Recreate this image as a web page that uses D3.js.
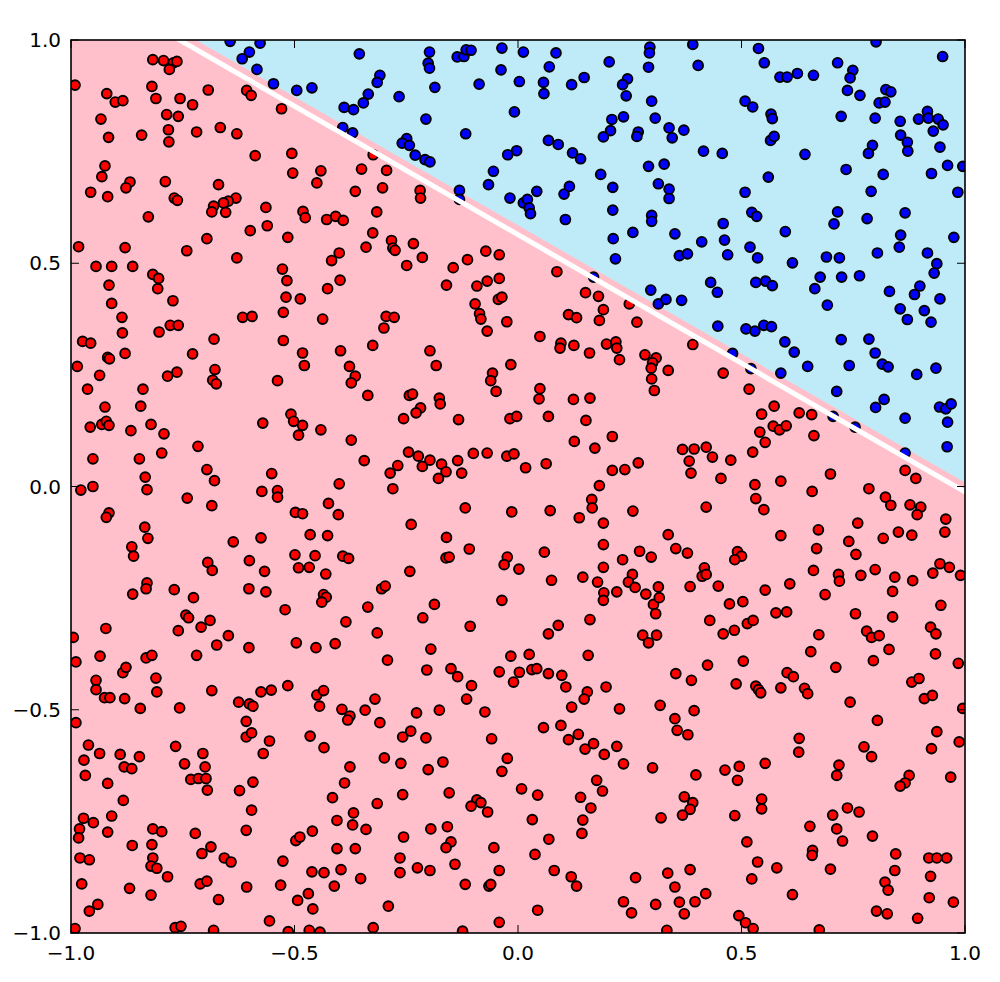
<!DOCTYPE html>
<html>
<head>
<meta charset="utf-8">
<script src="https://cdn.jsdelivr.net/npm/d3@7"></script>
<style>
html,body{margin:0;padding:0;background:#fff;}
svg{display:block;}
text{font-family:"DejaVu Sans",sans-serif;}
</style>
</head>
<body>
<svg id="chart" width="1000" height="982"></svg>
<script>
// ---- data ----
const xTicks = [-1.0, -0.5, 0.0, 0.5, 1.0];
const yTicks = [-1.0, -0.5, 0.0, 0.5, 1.0];
// decision region boundary (light blue above) and fitted separating line (white)
const regionLine = {intercept: 0.585, slope: -0.576};
const fitLine = {intercept: 0.564, slope: -0.576};

const bluePoints = [
[-0.644,0.997],[-0.577,0.993],[-0.601,0.973],[-0.617,0.958],[-0.584,0.934],[-0.547,0.902],[-0.495,0.887],[-0.461,0.893],[-0.355,0.969],[-0.335,0.879],[-0.346,0.859],[-0.389,0.849],[-0.368,0.844],[-0.392,0.804],[-0.370,0.792],
[-0.198,0.973],[-0.201,0.948],[-0.198,0.937],[-0.136,0.962],[-0.121,0.963],[-0.116,0.978],[-0.105,0.977],[-0.036,0.982],[0.012,0.973],[0.085,0.971],[0.204,0.951],[0.070,0.940],[0.295,0.984],[0.294,0.971],[0.292,0.939],
[-0.309,0.921],[-0.315,0.905],[-0.266,0.873],[-0.186,0.894],[-0.087,0.901],[-0.038,0.933],[0.003,0.907],[0.057,0.905],[0.058,0.880],[0.120,0.900],[0.148,0.916],[0.245,0.913],[0.234,0.900],[0.242,0.875],[0.299,0.863],
[-0.008,0.839],[-0.206,0.823],[-0.117,0.790],[0.210,0.822],[0.236,0.828],[0.207,0.797],[0.191,0.783],[0.307,0.825],[0.269,0.794],[0.266,0.784],
[-0.249,0.779],[-0.259,0.769],[-0.243,0.764],[-0.230,0.742],[-0.208,0.732],[-0.197,0.727],[0.068,0.775],[0.090,0.766],[0.122,0.747],[0.140,0.734],[-0.023,0.743],[-0.003,0.752],
[-0.055,0.706],[-0.066,0.676],[0.292,0.717],[0.327,0.722],[0.185,0.699],[0.212,0.670],[0.314,0.678],[-0.131,0.663],[-0.131,0.643],
[-0.018,0.646],[0.012,0.635],[0.021,0.643],[0.025,0.624],[0.028,0.611],[0.042,0.661],[0.103,0.655],[0.115,0.672],[0.106,0.598],[0.212,0.619],[0.299,0.607],[0.299,0.594],[0.257,0.569],[0.213,0.555],[0.218,0.510],[0.169,0.469],[0.297,0.440],[0.314,0.409],[0.331,0.419],
[0.391,0.990],[0.403,0.943],[0.538,0.981],[0.551,0.949],[0.801,0.996],[0.950,0.963],[0.715,0.949],[0.749,0.932],[0.743,0.915],[0.737,0.887],[0.765,0.876],[0.586,0.917],[0.602,0.917],[0.625,0.925],[0.661,0.921],
[0.823,0.889],[0.834,0.884],[0.808,0.859],[0.821,0.861],[0.508,0.863],[0.525,0.850],[0.566,0.834],[0.569,0.824],[0.723,0.829],[0.799,0.825],[0.855,0.818],[0.896,0.823],[0.916,0.840],[0.918,0.825],[0.940,0.823],[0.951,0.810],[0.929,0.796],
[0.338,0.803],[0.345,0.781],[0.371,0.798],[0.856,0.787],[0.871,0.771],[0.872,0.751],[0.944,0.760],[0.793,0.764],[0.784,0.746],[0.565,0.775],[0.573,0.784],[0.415,0.751],[0.457,0.746],[0.642,0.744],
[0.961,0.719],[0.995,0.717],[0.734,0.710],[0.817,0.699],[0.925,0.701],[0.560,0.693],[0.508,0.659],[0.790,0.661],[0.984,0.659],[0.338,0.666],[0.338,0.645],
[0.523,0.614],[0.534,0.605],[0.715,0.615],[0.707,0.588],[0.781,0.600],[0.866,0.613],[0.459,0.589],[0.598,0.571],[0.351,0.566],[0.411,0.548],[0.462,0.552],[0.519,0.536],[0.469,0.519],[0.536,0.512],[0.361,0.517],[0.379,0.521],
[0.614,0.501],[0.690,0.514],[0.719,0.512],[0.804,0.523],[0.856,0.563],[0.853,0.536],[0.916,0.523],[0.937,0.499],[0.931,0.478],[0.975,0.558],[0.676,0.469],[0.724,0.469],[0.764,0.472],[0.664,0.443],[0.692,0.406],
[0.831,0.437],[0.887,0.430],[0.899,0.449],[0.944,0.420],[0.855,0.398],[0.871,0.374],[0.909,0.394],[0.924,0.368],[0.431,0.457],[0.446,0.435],[0.532,0.457],[0.554,0.460],[0.569,0.450],[0.366,0.417],
[0.447,0.359],[0.510,0.353],[0.530,0.348],[0.550,0.361],[0.567,0.358],
[0.597,0.324],[0.618,0.301],[0.723,0.329],[0.785,0.330],[0.648,0.269],[0.741,0.271],[0.799,0.299],[0.815,0.274],[0.828,0.268],[0.892,0.251],[0.935,0.265],[0.480,0.298],[0.521,0.264],[0.588,0.254],
[0.713,0.213],[0.800,0.177],[0.819,0.195],[0.866,0.153],[0.943,0.178],[0.957,0.174],[0.969,0.185],[0.961,0.144],[0.960,0.089],[0.705,0.157],[0.754,0.133],[0.866,0.075]
];

const redPoints = [
// upper left
[-0.817,0.956],[-0.793,0.954],[-0.771,0.949],[-0.763,0.952],[-0.780,0.934],[-0.991,0.899],[-0.819,0.896],[-0.920,0.880],[-0.810,0.869],[-0.901,0.861],[-0.884,0.864],[-0.756,0.869],[-0.728,0.855],[-0.693,0.888],[-0.607,0.887],[-0.597,0.876],[-0.529,0.846],
[-0.786,0.833],[-0.760,0.829],[-0.933,0.823],[-0.782,0.799],[-0.916,0.782],[-0.842,0.787],[-0.781,0.772],[-0.719,0.794],[-0.666,0.804],[-0.629,0.790],[-0.588,0.741],[-0.506,0.746],
[-0.924,0.718],[-0.931,0.694],[-0.868,0.682],[-0.877,0.669],[-0.956,0.659],[-0.918,0.649],[-0.789,0.683],[-0.670,0.676],[-0.504,0.702],[-0.441,0.707],[-0.450,0.680],[-0.350,0.711],[-0.364,0.661],
[-0.769,0.646],[-0.762,0.641],[-0.631,0.646],[-0.648,0.639],[-0.659,0.635],[-0.681,0.628],[-0.685,0.615],[-0.654,0.614],[-0.564,0.625],[-0.827,0.604],[-0.481,0.616],[-0.476,0.602],[-0.428,0.598],[-0.408,0.605],[-0.391,0.596],
[-0.599,0.573],[-0.561,0.584],[-0.515,0.558],[-0.696,0.555],[-0.983,0.537],[-0.879,0.535],[-0.741,0.528],[-0.340,0.536],[-0.400,0.523],[-0.417,0.506],[-0.629,0.512],
[-0.944,0.493],[-0.909,0.493],[-0.862,0.493],[-0.817,0.475],[-0.804,0.466],[-0.527,0.487],[-0.517,0.461],[-0.398,0.462],[-0.426,0.443],[-0.915,0.451],[-0.806,0.443],
[-0.519,0.424],[-0.487,0.420],[-0.772,0.416],[-0.909,0.410],[-0.525,0.390],[-0.616,0.379],[-0.595,0.381],[-0.437,0.375],[-0.886,0.379],[-0.778,0.361],[-0.760,0.361],[-0.885,0.344],[-0.803,0.346],
// upper middle
[-0.324,0.743],[-0.294,0.708],[-0.303,0.669],[-0.316,0.615],[-0.325,0.568],[-0.219,0.663],[-0.218,0.646],[-0.283,0.551],[-0.280,0.534],[-0.275,0.529],[-0.234,0.544],[-0.214,0.513],[-0.249,0.495],
[-0.145,0.490],[-0.113,0.508],[-0.072,0.527],[-0.042,0.519],[-0.160,0.451],[-0.092,0.449],[-0.069,0.460],[-0.042,0.466],[-0.044,0.419],[-0.036,0.424],[-0.096,0.409],[-0.086,0.387],[-0.083,0.375],[-0.025,0.369],
[-0.295,0.381],[-0.277,0.379],[-0.300,0.355],[-0.069,0.348],[0.087,0.481],[0.151,0.434],[0.180,0.426],[0.191,0.396],[0.113,0.385],[0.131,0.378],[0.182,0.372],[0.249,0.409],[0.266,0.368],
// middle left
[-0.974,0.325],[-0.956,0.321],[-0.680,0.330],[-0.525,0.327],[-0.879,0.298],[-0.918,0.289],[-0.914,0.286],[-0.728,0.297],[-0.986,0.269],[-0.936,0.249],[-0.784,0.247],[-0.763,0.256],[-0.678,0.262],[-0.683,0.238],[-0.675,0.230],
[-0.963,0.218],[-0.839,0.218],[-0.924,0.178],[-0.844,0.180],[-0.482,0.299],[-0.478,0.271],[-0.397,0.304],[-0.377,0.269],[-0.364,0.247],[-0.373,0.232],[-0.538,0.237],[-0.336,0.204],
[-0.957,0.133],[-0.931,0.139],[-0.921,0.146],[-0.915,0.137],[-0.866,0.125],[-0.821,0.139],[-0.792,0.118],[-0.571,0.142],[-0.508,0.162],[-0.502,0.146],[-0.482,0.137],[-0.491,0.115],[-0.441,0.127],[-0.373,0.104],
[-0.716,0.090],[-0.797,0.075],[-0.951,0.062],[-0.847,0.062],[-0.344,0.058],[-0.696,0.038],[-0.679,0.013],[-0.834,0.021],[-0.830,-0.007],[-0.978,-0.008],[-0.951,0.000],[-0.740,-0.026],[-0.685,-0.043],
[-0.573,-0.011],[-0.538,-0.009],[-0.538,-0.024],[-0.551,0.029],[-0.400,0.006],[-0.424,-0.038],[-0.402,-0.063],[-0.498,-0.058],[-0.482,-0.061],[-0.915,-0.059],[-0.921,-0.069],
[-0.835,-0.091],[-0.828,-0.116],[-0.864,-0.135],[-0.860,-0.156],[-0.637,-0.124],[-0.575,-0.115],[-0.465,-0.108],[-0.426,-0.110],[-0.499,-0.153],[-0.454,-0.155],[-0.392,-0.156],[-0.379,-0.161],
[-0.491,-0.182],[-0.467,-0.181],[-0.430,-0.196],[-0.601,-0.166],[-0.567,-0.190],[-0.694,-0.170],[-0.684,-0.188],[-0.830,-0.216],[-0.832,-0.229],[-0.862,-0.241],[-0.769,-0.231],[-0.726,-0.249],
[-0.602,-0.229],[-0.564,-0.236],[-0.435,-0.242],[-0.429,-0.248],[-0.439,-0.259],[-0.521,-0.276],[-0.336,-0.270],[-0.385,-0.303],[-0.743,-0.288],[-0.737,-0.294],[-0.689,-0.300],[-0.709,-0.315],[-0.760,-0.323],[-0.648,-0.334],[-0.922,-0.318],[-0.995,-0.338],
// center
[0.049,0.336],[-0.325,0.316],[-0.197,0.304],[-0.183,0.271],[0.096,0.321],[0.094,0.310],[0.125,0.316],[0.160,0.299],[0.198,0.319],[0.219,0.324],[0.221,0.310],[0.227,0.284],[0.284,0.295],[0.309,0.288],[0.301,0.277],[0.298,0.265],[0.299,0.241],[0.305,0.215],[0.336,0.260],
[-0.016,0.273],[-0.057,0.254],[-0.061,0.237],[-0.049,0.213],[0.049,0.219],[0.047,0.196],[0.124,0.195],[0.161,0.198],[-0.243,0.204],[-0.236,0.207],[-0.218,0.176],[-0.228,0.165],[-0.176,0.198],[-0.174,0.185],
[-0.256,0.152],[-0.133,0.150],[-0.018,0.152],[-0.003,0.157],[0.068,0.157],[0.152,0.148],[0.126,0.101],[0.172,0.086],[0.211,0.112],
[-0.245,0.077],[-0.223,0.068],[-0.214,0.045],[-0.197,0.059],[-0.171,0.050],[-0.161,0.033],[-0.178,0.018],[-0.135,0.058],[-0.126,0.030],[-0.269,0.047],[-0.286,0.030],[-0.280,-0.005],
[-0.100,0.074],[-0.069,0.075],[-0.025,0.068],[-0.009,0.073],[0.017,0.042],[0.063,0.051],[0.182,0.002],[0.165,-0.029],[0.166,-0.048],[0.211,0.036],[0.239,0.038],[0.269,0.053],
[-0.118,-0.048],[-0.014,-0.057],[0.072,-0.054],[0.137,-0.070],[0.191,-0.082],[0.257,-0.055],[-0.239,-0.085],[-0.160,-0.114],[-0.109,-0.140],[-0.161,-0.160],[-0.154,-0.158],[-0.024,-0.158],[-0.031,-0.175],[0.002,-0.185],
[0.059,-0.147],[0.191,-0.130],[0.234,-0.164],[0.272,-0.145],[0.298,-0.158],[0.336,-0.108],[-0.242,-0.190],[0.075,-0.210],[0.145,-0.203],[0.178,-0.214],[0.191,-0.181],[0.256,-0.197],[0.247,-0.214],[0.262,-0.226],
[0.221,-0.236],[0.192,-0.238],[0.191,-0.255],[0.286,-0.241],[0.303,-0.264],[0.314,-0.225],[0.316,-0.249],[0.308,-0.285],[-0.305,-0.229],[-0.297,-0.223],[-0.187,-0.264],[-0.036,-0.255],[-0.213,-0.294],
[-0.107,-0.313],[0.090,-0.311],[0.161,-0.298],[-0.315,-0.328],[0.068,-0.330],[0.279,-0.333],[0.310,-0.333],
// middle right
[0.391,0.318],[0.459,0.254],[0.517,0.218],[0.573,0.180],[0.545,0.162],[0.629,0.165],[0.657,0.161],[0.541,0.122],[0.571,0.135],[0.585,0.127],[0.600,0.136],[0.553,0.099],[0.662,0.114],
[0.368,0.083],[0.394,0.084],[0.421,0.088],[0.435,0.066],[0.383,0.057],[0.387,0.030],[0.476,0.059],[0.525,0.077],[0.454,0.018],[0.530,0.004],[0.588,0.012],[0.658,-0.011],[0.699,0.028],
[0.785,-0.005],[0.822,-0.024],[0.834,-0.042],[0.866,0.036],[0.890,0.018],[0.877,-0.041],[0.901,-0.046],[0.893,-0.063],[0.957,-0.073],[0.955,-0.102],[0.760,-0.082],[0.740,-0.123],[0.756,-0.152],
[0.817,-0.116],[0.851,-0.102],[0.881,-0.109],[0.672,-0.097],[0.668,-0.139],[0.588,-0.110],[0.532,-0.027],[0.550,-0.052],[0.421,-0.046],[0.353,-0.139],[0.379,-0.149],[0.491,-0.146],[0.500,-0.156],[0.485,-0.164],
[0.417,-0.182],[0.412,-0.201],[0.421,-0.197],[0.385,-0.224],[0.448,-0.223],[0.553,-0.232],[0.608,-0.218],[0.661,-0.188],[0.717,-0.197],[0.719,-0.212],[0.767,-0.199],[0.799,-0.186],[0.843,-0.203],[0.883,-0.211],
[0.838,-0.235],[0.928,-0.194],[0.944,-0.173],[0.965,-0.181],[0.990,-0.199],[0.687,-0.242],[0.473,-0.263],[0.503,-0.258],[0.577,-0.283],[0.601,-0.281],[0.755,-0.285],[0.838,-0.292],[0.946,-0.266],
[0.429,-0.300],[0.513,-0.307],[0.526,-0.300],[0.459,-0.330],[0.484,-0.322],[0.673,-0.332],[0.780,-0.324],[0.791,-0.338],[0.808,-0.334],[0.923,-0.315],[0.935,-0.330],
// lower left
[-0.674,-0.355],[-0.602,-0.361],[-0.496,-0.350],[-0.452,-0.361],[-0.409,-0.352],[-0.989,-0.393],[-0.935,-0.380],[-0.832,-0.384],[-0.819,-0.378],[-0.719,-0.378],[-0.884,-0.417],[-0.877,-0.405],
[-0.944,-0.434],[-0.944,-0.455],[-0.925,-0.473],[-0.913,-0.473],[-0.880,-0.475],[-0.810,-0.429],[-0.808,-0.460],[-0.845,-0.497],[-0.757,-0.496],[-0.685,-0.457],[-0.625,-0.483],[-0.601,-0.487],[-0.593,-0.492],
[-0.575,-0.460],[-0.552,-0.456],[-0.515,-0.446],[-0.450,-0.467],[-0.435,-0.457],[-0.444,-0.492],[-0.394,-0.499],[-0.376,-0.514],[-0.381,-0.523],[-0.342,-0.501],[-0.989,-0.529],
[-0.608,-0.526],[-0.608,-0.561],[-0.596,-0.552],[-0.556,-0.570],[-0.570,-0.598],[-0.465,-0.559],[-0.434,-0.585],[-0.961,-0.579],[-0.936,-0.598],[-0.971,-0.613],[-0.890,-0.600],[-0.847,-0.605],[-0.881,-0.628],[-0.864,-0.632],
[-0.968,-0.647],[-0.918,-0.665],[-0.766,-0.582],[-0.746,-0.621],[-0.705,-0.598],[-0.700,-0.628],[-0.732,-0.656],[-0.715,-0.654],[-0.698,-0.654],[-0.695,-0.680],[-0.623,-0.681],[-0.593,-0.662],[-0.883,-0.703],[-0.596,-0.725],
[-0.376,-0.628],[-0.388,-0.664],[-0.415,-0.697],[-0.368,-0.731],[-0.370,-0.758],[-0.405,-0.748],[-0.340,-0.768],[-0.972,-0.743],[-0.950,-0.753],[-0.981,-0.767],[-0.983,-0.787],[-0.909,-0.738],[-0.918,-0.774],
[-0.817,-0.767],[-0.797,-0.773],[-0.722,-0.777],[-0.608,-0.770],[-0.497,-0.793],[-0.488,-0.785],[-0.460,-0.772],[-0.863,-0.804],[-0.819,-0.802],[-0.687,-0.807],[-0.707,-0.822],[-0.657,-0.832],[-0.642,-0.841],
[-0.817,-0.832],[-0.821,-0.850],[-0.808,-0.855],[-0.784,-0.874],[-0.980,-0.832],[-0.959,-0.836],[-0.526,-0.839],[-0.405,-0.811],[-0.364,-0.811],[-0.461,-0.863],[-0.434,-0.865],[-0.396,-0.858],[-0.352,-0.878],
[-0.976,-0.890],[-0.869,-0.900],[-0.821,-0.915],[-0.711,-0.890],[-0.696,-0.884],[-0.607,-0.897],[-0.531,-0.893],[-0.411,-0.895],[-0.469,-0.912],[-0.493,-0.927],[-0.459,-0.946],[-0.670,-0.925],[-0.959,-0.951],[-0.940,-0.936],
[-0.556,-0.973],[-0.991,-0.990],[-0.767,-0.988],[-0.754,-0.985],[-0.681,-0.994],[-0.514,-0.997],[-0.467,-0.994],[-0.443,-0.998],
// lower middle
[0.292,-0.350],[-0.195,-0.364],[-0.292,-0.389],[-0.204,-0.411],[-0.150,-0.408],[-0.135,-0.426],[-0.104,-0.446],[-0.115,-0.476],[-0.320,-0.476],[-0.227,-0.507],[-0.176,-0.501],[-0.309,-0.529],[-0.074,-0.505],
[-0.240,-0.548],[-0.258,-0.561],[-0.206,-0.563],[-0.059,-0.565],[-0.016,-0.380],[0.025,-0.376],[-0.042,-0.415],[0.003,-0.416],[-0.010,-0.438],[0.031,-0.410],[0.042,-0.408],[0.068,-0.419],[0.098,-0.423],[0.107,-0.449],
[0.157,-0.378],[0.155,-0.460],[0.148,-0.476],[0.197,-0.449],[0.120,-0.494],[0.227,-0.498],[0.318,-0.490],[0.057,-0.540],[0.096,-0.535],[0.113,-0.567],[0.135,-0.555],[0.150,-0.588],[0.169,-0.576],[0.193,-0.600],[0.221,-0.582],
[0.236,-0.621],[0.301,-0.630],[-0.299,-0.608],[-0.262,-0.620],[-0.201,-0.634],[-0.168,-0.617],[-0.024,-0.609],[-0.036,-0.638],[0.008,-0.677],[0.044,-0.691],[-0.092,-0.702],[-0.105,-0.716],[-0.083,-0.708],[-0.068,-0.729],
[-0.154,-0.686],[-0.258,-0.690],[-0.315,-0.710],[0.176,-0.658],[0.189,-0.682],[0.140,-0.696],[0.163,-0.720],[0.145,-0.747],[0.143,-0.777],[0.032,-0.746],[0.320,-0.742],[0.069,-0.790],[0.038,-0.824],[-0.054,-0.809],
[-0.195,-0.767],[-0.158,-0.762],[-0.150,-0.796],[-0.161,-0.809],[-0.256,-0.785],[-0.264,-0.832],[-0.264,-0.865],[-0.225,-0.854],[-0.197,-0.860],[-0.141,-0.846],[-0.042,-0.860],[0.081,-0.860],[0.119,-0.874],[0.131,-0.895],
[-0.118,-0.891],[-0.065,-0.895],[-0.061,-0.891],[0.263,-0.876],[0.335,-0.866],[0.236,-0.930],[0.254,-0.955],[0.308,-0.936],[-0.290,-0.940],[0.044,-0.949],[-0.042,-0.976],[-0.124,-0.996],[-0.324,-0.988],[0.333,-0.994],
// lower right
[0.655,-0.370],[0.830,-0.365],[0.934,-0.375],[0.795,-0.390],[0.985,-0.396],[0.353,-0.419],[0.424,-0.400],[0.504,-0.391],[0.388,-0.434],[0.488,-0.442],[0.711,-0.405],[0.588,-0.451],[0.602,-0.417],[0.616,-0.426],
[0.532,-0.447],[0.538,-0.455],[0.543,-0.462],[0.641,-0.452],[0.648,-0.464],[0.743,-0.483],[0.881,-0.438],[0.897,-0.430],[0.909,-0.475],[0.927,-0.468],[0.995,-0.497],[0.394,-0.502],[0.351,-0.520],[0.356,-0.546],[0.380,-0.556],
[0.804,-0.524],[0.937,-0.549],[0.925,-0.587],[0.987,-0.572],[0.629,-0.564],[0.628,-0.595],[0.774,-0.583],[0.791,-0.605],[0.463,-0.635],[0.495,-0.627],[0.491,-0.658],[0.553,-0.620],[0.398,-0.646],[0.718,-0.624],[0.713,-0.647],
[0.875,-0.647],[0.866,-0.664],[0.855,-0.671],[0.968,-0.651],[0.372,-0.695],[0.391,-0.708],[0.385,-0.723],[0.368,-0.736],[0.545,-0.700],[0.545,-0.722],[0.485,-0.737],[0.704,-0.736],[0.737,-0.720],[0.763,-0.729],
[0.653,-0.761],[0.713,-0.767],[0.726,-0.794],[0.793,-0.783],[0.512,-0.796],[0.659,-0.815],[0.658,-0.826],[0.845,-0.823],[0.919,-0.832],[0.937,-0.832],[0.959,-0.832],[0.923,-0.873],[0.843,-0.860],[0.821,-0.886],[0.828,-0.904],
[0.699,-0.857],[0.579,-0.854],[0.536,-0.841],[0.523,-0.879],[0.385,-0.858],[0.351,-0.897],[0.420,-0.912],[0.361,-0.931],[0.396,-0.930],[0.372,-0.957],[0.614,-0.914],[0.920,-0.921],[0.974,-0.931],[0.802,-0.951],[0.826,-0.957],
[0.894,-0.967],[0.494,-0.961],[0.509,-0.977],[0.526,-0.990],[0.674,-0.993]
];

// ---- layout ----
const svg = d3.select("#chart");
const plot = {left: 71, right: 965, top: 40, bottom: 933};
const x = d3.scaleLinear().domain([-1, 1]).range([plot.left, plot.right]);
const y = d3.scaleLinear().domain([-1, 1]).range([plot.bottom, plot.top]);

svg.append("defs").append("clipPath").attr("id", "clip")
  .append("rect").attr("x", plot.left).attr("y", plot.top)
  .attr("width", plot.right - plot.left).attr("height", plot.bottom - plot.top);

const g = svg.append("g").attr("clip-path", "url(#clip)");

// pink background region
g.append("rect").attr("x", x(-1)).attr("y", y(1))
  .attr("width", x(1) - x(-1)).attr("height", y(-1) - y(1)).attr("fill", "#ffc0cb");

// light blue region above decision boundary
const lineAt = (p, xv) => p.intercept + p.slope * xv;
const xTop = (1 - regionLine.intercept) / regionLine.slope;
const regionPoly = [[xTop, 1], [1, 1], [1, lineAt(regionLine, 1)]];
g.append("path")
  .attr("d", d3.line().x(d => x(d[0])).y(d => y(d[1]))(regionPoly) + "Z")
  .attr("fill", "#bfebf8");

// points
const R = 4.9, SW = 1.9;
g.selectAll("circle.red").data(redPoints).join("circle")
  .attr("class", "red").attr("cx", d => x(d[0])).attr("cy", d => y(d[1])).attr("r", R)
  .attr("fill", "#ff0000").attr("stroke", "#000").attr("stroke-width", SW);
g.selectAll("circle.blue").data(bluePoints).join("circle")
  .attr("class", "blue").attr("cx", d => x(d[0])).attr("cy", d => y(d[1])).attr("r", R)
  .attr("fill", "#0000ff").attr("stroke", "#000").attr("stroke-width", SW);

// white separating line
const fitPts = [[-1.2, lineAt(fitLine, -1.2)], [1.2, lineAt(fitLine, 1.2)]];
g.append("path")
  .attr("d", d3.line().x(d => x(d[0])).y(d => y(d[1]))(fitPts))
  .attr("stroke", "#ffffff").attr("stroke-width", 5).attr("fill", "none");

// frame
svg.append("rect").attr("x", plot.left).attr("y", plot.top)
  .attr("width", plot.right - plot.left).attr("height", plot.bottom - plot.top)
  .attr("fill", "none").attr("stroke", "#000").attr("stroke-width", 1.6);

// ticks (inward, all four sides)
const fmt = v => (v < 0 ? "\u2212" : "") + Math.abs(v).toFixed(1);
const tl = 8;
const tg = svg.append("g").attr("stroke", "#000").attr("stroke-width", 1);
xTicks.forEach(v => {
  tg.append("line").attr("x1", x(v)).attr("x2", x(v)).attr("y1", plot.bottom).attr("y2", plot.bottom - tl);
  tg.append("line").attr("x1", x(v)).attr("x2", x(v)).attr("y1", plot.top).attr("y2", plot.top + tl);
});
yTicks.forEach(v => {
  tg.append("line").attr("y1", y(v)).attr("y2", y(v)).attr("x1", plot.left).attr("x2", plot.left + tl);
  tg.append("line").attr("y1", y(v)).attr("y2", y(v)).attr("x1", plot.right).attr("x2", plot.right - tl);
});

svg.append("g").selectAll("text").data(xTicks).join("text")
  .attr("x", d => x(d)).attr("y", plot.bottom + 27)
  .attr("text-anchor", "middle").attr("font-size", 20).attr("fill", "#000")
  .text(fmt);
svg.append("g").selectAll("text").data(yTicks).join("text")
  .attr("x", plot.left - 10).attr("y", d => y(d) + 7)
  .attr("text-anchor", "end").attr("font-size", 20).attr("fill", "#000")
  .text(fmt);
</script>
</body>
</html>
